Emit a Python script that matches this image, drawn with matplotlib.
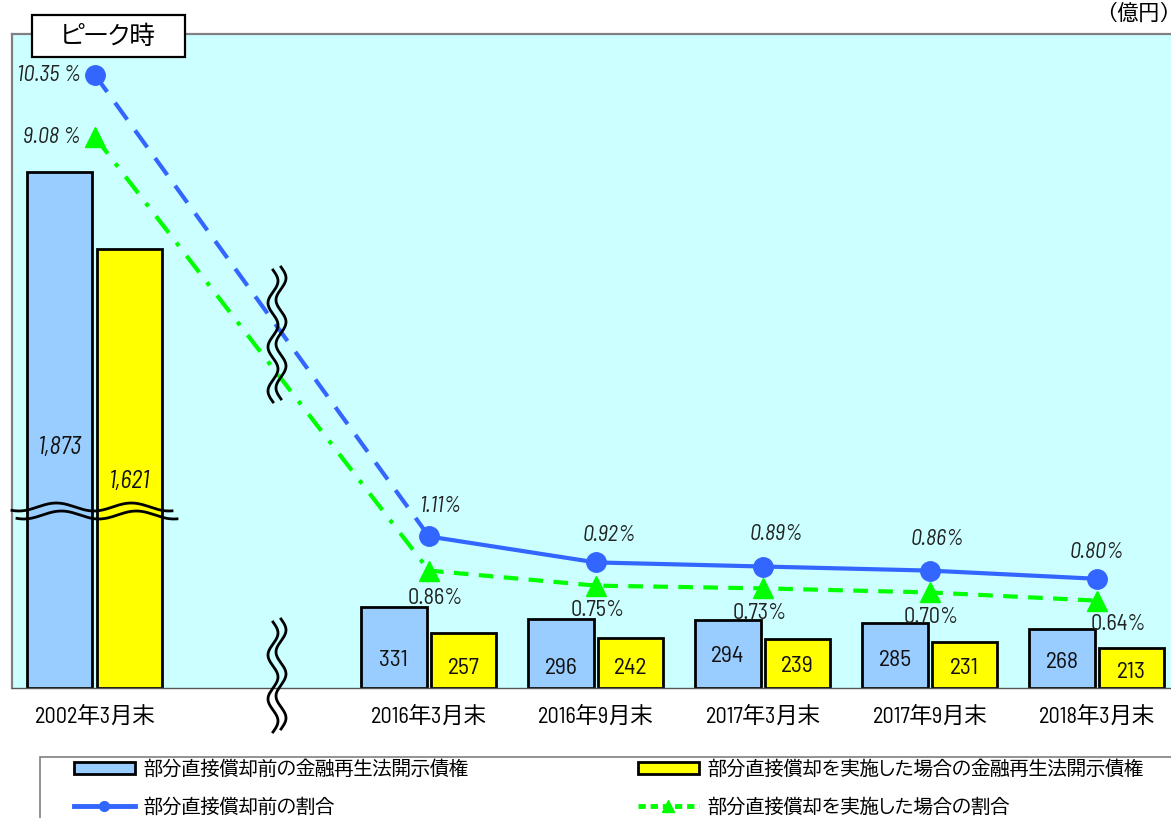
import numpy as np
import matplotlib
matplotlib.use("Agg")
import matplotlib.pyplot as plt
from matplotlib import patches
from matplotlib.lines import Line2D

FONTS = ['Barlow Semi Condensed', 'BIZ UDPGothic', 'Noto Sans CJK JP', 'DejaVu Sans']
plt.rcParams['font.family'] = FONTS

# data
categories = ['2002年3月末', '2016年3月末', '2016年9月末', '2017年3月末', '2017年9月末', '2018年3月末']
before_amt = [1873, 331, 296, 294, 285, 268]
after_amt = [1621, 257, 242, 239, 231, 213]
before_ratio = [10.35, 1.11, 0.92, 0.89, 0.86, 0.80]
after_ratio = [9.08, 0.86, 0.75, 0.73, 0.70, 0.64]
before_ratio_lbl = ['10.35 %', '1.11%', '0.92%', '0.89%', '0.86%', '0.80%']
after_ratio_lbl = ['9.08 %', '0.86%', '0.75%', '0.73%', '0.70%', '0.64%']
legend_labels = ['部分直接償却前の金融再生法開示債権', '部分直接償却を実施した場合の金融再生法開示債権',
                 '部分直接償却前の割合', '部分直接償却を実施した場合の割合']

BLUE_BAR = '#99CCFF'
YELLOW = '#FFFF00'
BLUE = '#3366FF'
GREEN = '#00FF00'
BG = '#CCFFFF'

W, H = 1171, 818
fig = plt.figure(figsize=(W / 100, H / 100), dpi=100)

# plot area in pixels
L, T, B = 12, 34, 688
ax = fig.add_axes([L / W, (H - B) / H, (W - L) / W, (B - T) / H])
ax.set_facecolor(BG)

# broken axis scales (units = pixel height above axis bottom)
BX = [-1e5, 100, 600, 767, 1e5]
BY = [0.3506 * (-1e5 - 100), 0, 0.3506 * 500, 178.0, 178.0 + 0.3056 * (1e5 - 767)]
RX = [-1e3, 1.23, 1e3]
RY = [136.5 * -1e3, 136.5 * 1.23, 136.5 * 1.23 + 48.8 * (1e3 - 1.23)]


def bar_fwd(v):
    return np.interp(v, BX, BY)


def bar_inv(h):
    return np.interp(h, BY, BX)


def r_fwd(v):
    return np.interp(v, RX, RY)


def r_inv(h):
    return np.interp(h, RY, RX)


ax.set_yscale('function', functions=(bar_fwd, bar_inv))
ax.set_ylim(100, bar_inv(B - T))

x = np.r_[0, np.arange(2, 7)].astype(float)
bw = 0.39
base = 100
ax.bar(x - 0.21, np.array(before_amt) - base, bw, bottom=base, color=BLUE_BAR, edgecolor='black',
       linewidth=2, zorder=2)
ax.bar(x + 0.207, np.array(after_amt) - base, bw, bottom=base, color=YELLOW, edgecolor='black',
       linewidth=2, zorder=2)
ax.set_xlim(-0.497, 6.443)

# bar value labels (label heights in px above the axis bottom)
blue_lbl_h = [241, 28, 20, 32, 27, 25]
yel_lbl_h = [206, 20, 20, 21, 20, 16]
for i in range(len(x)):
    it = 'italic' if i == 0 else 'normal'
    fs = 17.5 if i == 0 else 17
    ax.text(x[i] - 0.21, bar_inv(blue_lbl_h[i]), f'{before_amt[i]:,}', ha='center', va='center',
            fontsize=fs, style=it, color='#111111', zorder=5)
    ax.text(x[i] + 0.207, bar_inv(yel_lbl_h[i]), f'{after_amt[i]:,}', ha='center', va='center',
            fontsize=fs, style=it, color='#111111', zorder=5)

ax.set_xticks(x)
ax.set_xticklabels(categories, fontsize=16)
ax.tick_params(axis='x', length=0, pad=13)
ax.set_yticks([])
ax.yaxis.set_minor_locator(matplotlib.ticker.NullLocator())
for s in ['top', 'left']:
    ax.spines[s].set_color('#808080')
    ax.spines[s].set_linewidth(1.6)
ax.spines['bottom'].set_color('#555555')
ax.spines['bottom'].set_linewidth(1.0)
ax.spines['right'].set_visible(False)

# ratio lines
ax2 = ax.twinx()
ax2.set_yscale('function', functions=(r_fwd, r_inv))
ax2.set_ylim(0, r_inv(B - T))
ax2.set_yticks([])
ax2.yaxis.set_minor_locator(matplotlib.ticker.NullLocator())
for s in ax2.spines.values():
    s.set_visible(False)

ax2.plot(x[:2], before_ratio[:2], color=BLUE, lw=3, ls=(0, (5, 3.2)))
ax2.plot(x[1:], before_ratio[1:], color=BLUE, lw=3)
ax2.plot(x, before_ratio, 'o', color=BLUE, ms=14)
ax2.plot(x[:2], after_ratio[:2], color=GREEN, lw=3, ls=(0, (5, 3, 1, 3)))
ax2.plot(x[1:], after_ratio[1:], color=GREEN, lw=3, ls=(0, (3.5, 2.5)))
ax2.plot(x, after_ratio, '^', color=GREEN, ms=15)

blue_off = [(-14, 0), (12, -30), (13, -27), (13, -32), (7, -31), (0, -26)]
green_off = [(-14, 0), (6, 28), (2, 25), (-3, 25), (1, 25), (21, 24)]
for i in range(len(x)):
    ha = 'right' if i == 0 else 'center'
    ax2.annotate(before_ratio_lbl[i], (x[i], before_ratio[i]), xytext=(blue_off[i][0] * 0.72, -blue_off[i][1] * 0.72),
                 textcoords='offset points', ha=ha, va='center', fontsize=16, style='italic', color='#222222')
    ax2.annotate(after_ratio_lbl[i], (x[i], after_ratio[i]), xytext=(green_off[i][0] * 0.72, -green_off[i][1] * 0.72),
                 textcoords='offset points', ha=ha, va='center', fontsize=16,
                 style='italic' if i == 0 else 'normal', color='#222222')

# overlay in pixel coordinates for decorations
ov = fig.add_axes([0, 0, 1, 1], zorder=10)
ov.set_xlim(0, W)
ov.set_ylim(H, 0)
ov.axis('off')
ov.patch.set_alpha(0)

# horizontal break across 2002 bars
xs = np.linspace(12, 172, 200)
ys = 507 + 4 * np.sin(2 * np.pi * (xs - 12) / 75 + 1.0)
ov.plot(xs, ys, color='black', lw=2)
ov.plot(xs + 5, ys + 8, color='black', lw=2)

# vertical breaks
for y0, y1 in [(270, 402), (622, 732)]:
    yy = np.linspace(y0, y1, 200)
    xx = 273 + 5 * np.sin(2 * np.pi * (yy - y0) / 44)
    ov.plot(xx, yy, color='black', lw=2)
    ov.plot(xx + 8, yy - 3, color='black', lw=2)

# peak label box
ov.add_patch(patches.Rectangle((32, 15), 153, 42, facecolor='white', edgecolor='black', lw=1.6))
ov.text(108, 37, 'ピーク時', ha='center', va='center', fontsize=18)
ov.text(1170, 15, '（億円）', ha='right', va='center', fontsize=15)

# legend
ov.add_patch(patches.Rectangle((40, 757), 1140, 70, facecolor='white', edgecolor='#808080', lw=1.2, zorder=0))
h_bar1 = patches.Patch(facecolor=BLUE_BAR, edgecolor='black', lw=2)
h_bar2 = patches.Patch(facecolor=YELLOW, edgecolor='black', lw=2)
h_l1 = Line2D([], [], color=BLUE, lw=3.5, marker='o', ms=7)
h_l2 = Line2D([], [], color=GREEN, lw=3.5, ls=(0, (1.5, 1)), marker='^', ms=8)
kw = dict(loc='center left', bbox_transform=ov.transData, frameon=False, borderpad=0,
          handlelength=3.2, handleheight=0.55, handletextpad=0.45, labelspacing=1.0,
          prop={'family': FONTS, 'size': 13.8})
leg1 = ov.legend([h_bar1, h_l1], [legend_labels[0], legend_labels[2]], bbox_to_anchor=(64, 788.5), **kw)
ov.add_artist(leg1)
ov.legend([h_bar2, h_l2], [legend_labels[1], legend_labels[3]], bbox_to_anchor=(628, 788.5), **kw)

fig.savefig('out.png', dpi=100)
